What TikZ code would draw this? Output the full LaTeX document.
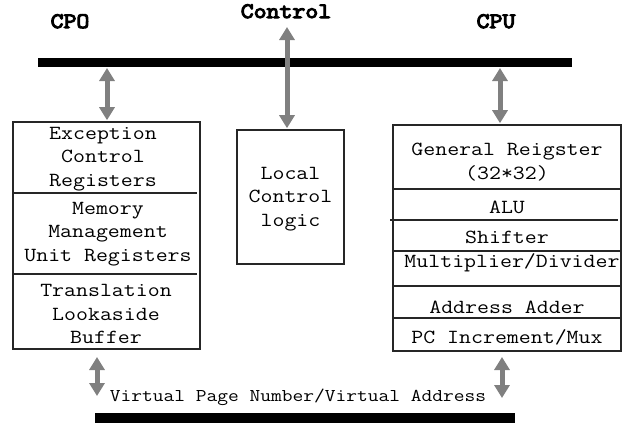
\documentclass[tikz,border=0pt]{standalone}
\usepackage{fontspec}
\setmonofont{Latin Modern Mono}[FakeStretch=1.16]
\newfontfamily\headfont{Latin Modern Mono}[FakeStretch=1.14, FakeBold=5]
\usetikzlibrary{arrows.meta}
\tikzset{
  box/.style={draw=black!85, line width=1.6pt, inner sep=0pt},
  txt/.style={font=\ttfamily\fontsize{20}{23.5}\selectfont, align=center, inner sep=0pt},
  vtxt/.style={font=\ttfamily\fontsize{18}{21}\selectfont, inner sep=0pt},
  head/.style={font=\headfont\fontsize{22}{24}\selectfont, inner sep=0pt},
  bus/.style={line width=9pt, black},
  divider/.style={line width=1.4pt, black!85},
  dblarrow/.style={line width=5pt, black!50, {Triangle[width=15pt,length=13pt]}-{Triangle[width=15pt,length=13pt]}}
}
\begin{document}
\begin{tikzpicture}[x=1pt,y=-1pt]
\useasboundingbox (0,0) rectangle (638,426);
% headings
\node[head, anchor=base] (cpo) at (70,28) {CPO};
\node[head, anchor=base] (ctl) at (286,18) {Control};
\node[head, anchor=base] (cpu) at (496,28) {CPU};
% top bus
\coordinate (busL) at (38,62.5);
\coordinate (busR) at (572,62.5);
\draw[bus] (busL) -- (busR);
% bottom bus
\coordinate (bbusL) at (95,418);
\coordinate (bbusR) at (515,418);
\draw[bus, line width=10pt] (bbusL) -- (bbusR);
% left box
\node[box, minimum width=187pt, minimum height=227pt] (cpobox) at (106.5,235.5) {};
\draw[divider] (13,193) -- (197,193);
\draw[divider] (13,274) -- (197,274);
\node[txt] (exc) at (103,159) {Exception\\Control\\Registers};
\node[txt] (mmu) at (108,234) {Memory\\Management\\Unit Registers};
\node[txt] (tlb) at (106,314) {Translation\\Lookaside\\Buffer};
% middle box
\node[box, minimum width=107pt, minimum height=134pt] (local) at (290.5,197) {};
\node[txt] (localt) at (290.5,199) {Local\\Control\\logic};
% right box
\node[box, minimum width=228pt, minimum height=226pt] (cpubox) at (507,238) {};
\draw[divider] (393,189) -- (621,189);
\draw[divider] (390,220) -- (618,220);
\draw[divider] (393,251) -- (621,251);
\draw[divider] (393,286) -- (621,286);
\draw[divider] (393,318) -- (621,318);
\node[txt] (gpr) at (507,162) {General Reigster\\(32*32)};
\node[txt, anchor=base] (alu) at (507,213) {ALU};
\node[txt, anchor=base] (sh) at (507,243) {Shifter};
\node[txt, anchor=base] (mul) at (512,267) {Multiplier/Divider};
\node[txt, anchor=base] (add) at (507,313) {Address Adder};
\node[txt, anchor=base] (pc) at (507,343) {PC Increment/Mux};
% bottom label
\node[vtxt, anchor=base] (va) at (298,401) {Virtual Page Number/Virtual Address};
% arrows
\coordinate (a1t) at (107,68);
\draw[dblarrow] (a1t) -- ([yshift=1pt]cpobox.north -| a1t);
\coordinate (a2t) at (287,27);
\draw[dblarrow] (a2t) -- ([yshift=1pt]local.north -| a2t);
\coordinate (a3t) at (500,68);
\draw[dblarrow] (a3t) -- ([yshift=1pt]cpubox.north -| a3t);
\coordinate (a4t) at (97,357);
\coordinate (a4b) at (97,396);
\draw[dblarrow] (a4t) -- (a4b);
\coordinate (a5t) at (502,357);
\coordinate (a5b) at (502,398);
\draw[dblarrow] (a5t) -- (a5b);
\end{tikzpicture}
\end{document}
